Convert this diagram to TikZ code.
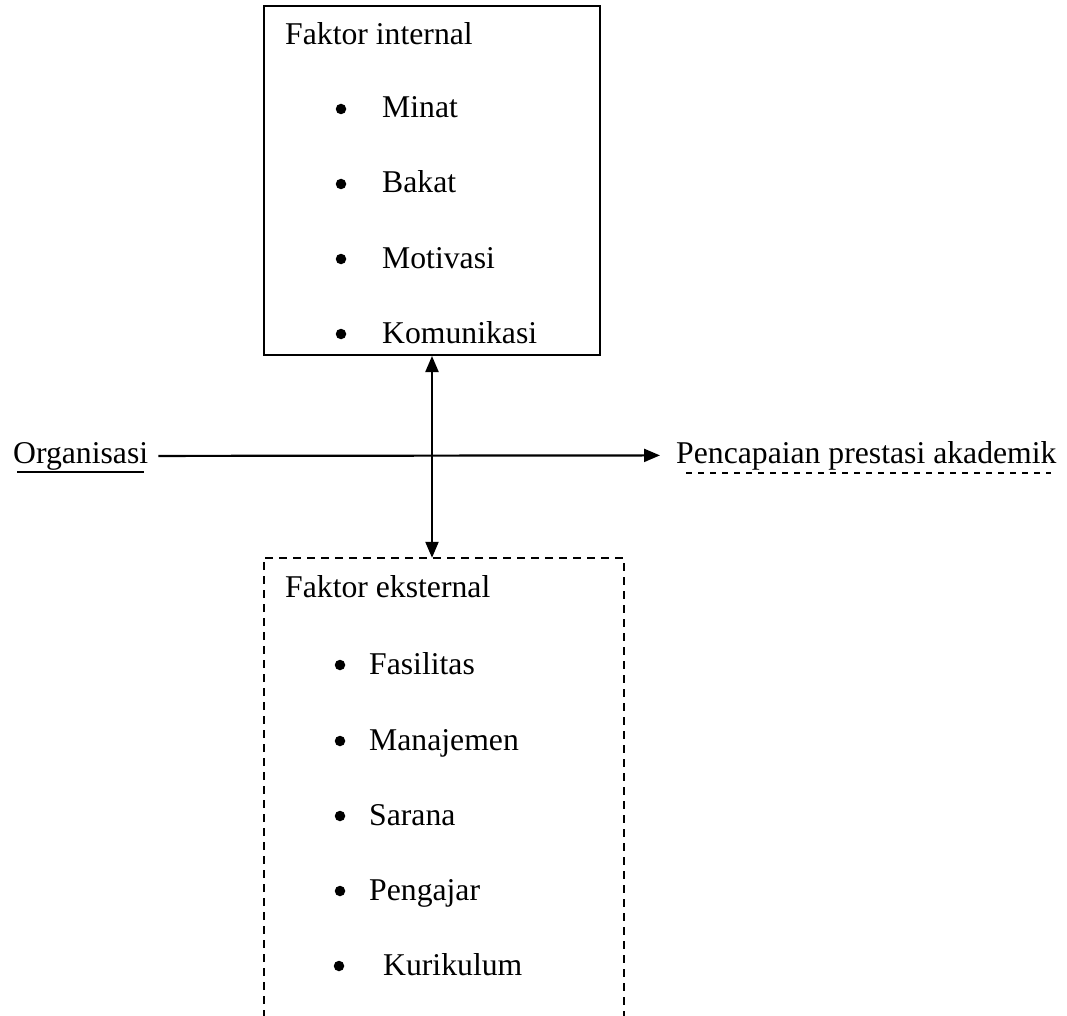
\documentclass[tikz,border=0pt]{standalone}
\usepackage{fontspec}
\setmainfont{Liberation Serif}
\usetikzlibrary{arrows.meta}
\begin{document}
\begin{tikzpicture}[x=1pt,y=-1pt,
  txt/.style={font=\fontsize{31.7}{38}\selectfont, inner sep=0pt, anchor=base west},
  bul/.style={circle, fill=black, inner sep=0pt, minimum size=10.5pt},
  frame/.style={line width=2pt},
  dframe/.style={line width=2pt, dash pattern=on 8pt off 6pt},
  conn/.style={line width=2.2pt, -{Triangle[length=16pt,width=13pt]}},
  bconn/.style={line width=2.2pt, {Triangle[length=16pt,width=13pt]}-{Triangle[length=16pt,width=13pt]}}]
\useasboundingbox (0,0) rectangle (1067,1016);

% internal factors box
\node[frame, draw, minimum width=336pt, minimum height=349pt, inner sep=0pt] (internal) at (432,180.5) {};
\node[txt] (ti) at (285,45) {Faktor internal};
\node[bul] (bi1) at (341,109) {};
\node[txt] (i1) at (382,118) {Minat};
\node[bul] (bi2) at (341,184) {};
\node[txt] (i2) at (382,193) {Bakat};
\node[bul] (bi3) at (341,259) {};
\node[txt] (i3) at (382,268) {Motivasi};
\node[bul] (bi4) at (341,334) {};
\node[txt] (i4) at (382,343) {Komunikasi};

% external factors box (open at the bottom)
\node[minimum width=360pt, minimum height=460pt, inner sep=0pt] (external) at (444,788) {};
\draw[dframe] (external.south west) -- (external.north west) -- (external.north east) -- (external.south east);
\node[txt] (te) at (285,597) {Faktor eksternal};
\node[bul] (be1) at (340,665) {};
\node[txt] (e1) at (369,674) {Fasilitas};
\node[bul] (be2) at (340,741) {};
\node[txt] (e2) at (369,750) {Manajemen};
\node[bul] (be3) at (340,816) {};
\node[txt] (e3) at (369,825) {Sarana};
\node[bul] (be4) at (340,891) {};
\node[txt] (e4) at (369,900) {Pengajar};
\node[bul] (be5) at (339,966) {};
\node[txt] (e5) at (383,975) {Kurikulum};

% left and right labels
\node[txt] (org) at (13,463) {Organisasi};
\node[txt] (out) at (676,463) {Pencapaian prestasi akademik};
\draw[line width=2.2pt] ([xshift=4pt,yshift=-9pt]org.base west) -- ([xshift=-4pt,yshift=-9pt]org.base east);
\draw[line width=1.5pt, dash pattern=on 6pt off 6pt] ([xshift=10pt,yshift=-10pt]out.base west) -- ([xshift=-6pt,yshift=-10pt]out.base east);

% connectors
\draw[conn] ([xshift=10pt]org.east) -- ([xshift=-16pt]out.west);
\draw[bconn] (internal.south) -- (internal.south |- external.north);
\end{tikzpicture}
\end{document}
